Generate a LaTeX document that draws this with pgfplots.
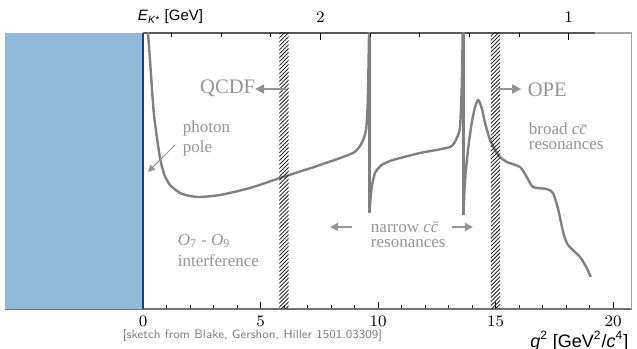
\documentclass[border=0pt]{standalone}
\usepackage{fontspec}
\usepackage{pgfplots}
\pgfplotsset{compat=1.18}
\usetikzlibrary{arrows.meta,patterns.meta}
\newfontfamily\helv{Liberation Sans}
\newfontfamily\tnr{Liberation Serif}
\definecolor{curvegray}{RGB}{128,128,128}
\definecolor{anngray}{RGB}{148,148,148}
\definecolor{kblue}{RGB}{143,186,218}
\definecolor{kdark}{RGB}{25,70,115}

\begin{document}
\begin{tikzpicture}
\begin{axis}[
 scale only axis, width=313.4pt, height=138pt,
 xmin=-5.87, xmax=20.8, ymin=0, ymax=276,
 axis x line*=bottom, axis y line=none,
 x axis line style={-, draw=black!55, line width=0.6pt},
 xtick={0,5,10,15,20},
 minor xtick={1,2,3,4,6,7,8,9,11,12,13,14,16,17,18,19},
 xtick align=inside, major tick length=3.5pt, minor tick length=2pt,
 tick style={black, line width=0.4pt},
 ticklabel style={font=\fontsize{8}{9}\selectfont},
 clip mode=individual,
]
% blue region
\addplot[fill=kblue, draw=none] coordinates {(-5.87,0) (0,0) (0,276) (-5.87,276)} -- cycle;
\addplot[kdark, line width=1pt] coordinates {(0,0) (0,276)};
% frame
\draw[black!65, line width=0.6pt] (axis cs:0,276) -- (axis cs:19.25,276);
\draw[black!35, line width=0.6pt] (axis cs:19.25,276) -- (axis cs:20.8,276) -- (axis cs:20.8,0);
% curve
\addplot[curvegray, line width=1.2pt, line join=round, smooth, tension=0.4] coordinates {
(0.17,289) (0.213,276) (0.298,249) (0.383,219) (0.468,194) (0.596,171)
(0.723,151) (0.894,135) (1.149,124) (1.574,116) (2.0,113) (2.426,112)
(3.277,114) (4.553,121) (5.957,132) (7.532,144) (8.936,156) (9.306,166)
(9.489,179) (9.562,206) (9.604,256) (9.625,289)
};
\addplot[curvegray, line width=1.3pt] coordinates {(9.63,289) (9.63,96)};
\addplot[curvegray, line width=1.2pt, line join=round, smooth, tension=0.4] coordinates {
(9.63,96) (9.66,104) (9.732,122) (9.872,136) (10.157,144) (10.638,149) (11.787,156)
(13.064,162) (13.349,171) (13.489,182) (13.562,222) (13.604,276) (13.617,289)
};
\addplot[curvegray, line width=1.3pt] coordinates {(13.63,289) (13.63,94)};
\addplot[curvegray, line width=1.2pt, line join=round, smooth, tension=0.4] coordinates {
(13.63,94) (13.651,104) (13.702,129) (13.843,162) (13.987,186)
(14.128,202) (14.268,209) (14.413,201) (14.553,186) (14.766,169) (14.979,159)
(15.191,152) (15.477,147) (16.043,142) (16.328,132) (16.596,122) (17.179,120)
(17.447,116) (17.672,99) (17.885,76) (18.085,64) (18.596,52) (18.881,41)
(19.051,32)
};
% hatched bands
\addplot[draw=none, pattern={Lines[angle=45,distance=1.4pt,line width=0.45pt]}, pattern color=black!85]
 coordinates {(5.8,0) (6.2,0) (6.2,276) (5.8,276)} -- cycle;
\addplot[draw=none, pattern={Lines[angle=45,distance=1.4pt,line width=0.45pt]}, pattern color=black!85]
 coordinates {(14.8,0) (15.2,0) (15.2,276) (14.8,276)} -- cycle;
% annotations
\node[font=\tnr\fontsize{10.3}{12}\selectfont, text=anngray] at (axis cs:3.6,221) {QCDF};
\draw[anngray, line width=1pt, -{Triangle[length=4.5pt,width=4.5pt]}] (axis cs:6.1,220) -- (axis cs:4.77,220);
\node[font=\tnr\fontsize{10.3}{12}\selectfont, text=anngray] at (axis cs:17.2,219) {OPE};
\draw[anngray, line width=1pt, -{Triangle[length=4.5pt,width=4.5pt]}] (axis cs:15.0,220) -- (axis cs:16.09,220);
\node[anchor=west, align=left, font=\tnr\fontsize{8.5}{10}\selectfont, text=anngray] at (axis cs:1.40,171) {photon\\pole};
\draw[anngray, line width=0.5pt, -{Triangle[length=3.5pt,width=3.5pt]}] (axis cs:1.36,164) -- (axis cs:0.21,137);
\node[anchor=west, align=left, font=\tnr\fontsize{8.5}{10.5}\selectfont, text=anngray] at (axis cs:1.18,59) {{\itshape O}\textsubscript{7} - {\itshape O}\textsubscript{9}\\interference};
\node[anchor=west, align=left, font=\tnr\fontsize{8.5}{7.5}\selectfont, text=anngray] at (axis cs:9.40,74) {narrow {\itshape c\={c}}\\resonances};
\draw[anngray, line width=0.8pt, -{Triangle[length=4pt,width=4pt]}] (axis cs:8.89,82) -- (axis cs:7.96,82);
\draw[anngray, line width=0.8pt, -{Triangle[length=4pt,width=4pt]}] (axis cs:13.15,82) -- (axis cs:14.04,82);
\node[anchor=west, align=left, font=\tnr\fontsize{8.5}{7.5}\selectfont, text=anngray] at (axis cs:16.12,172.5) {broad {\itshape c\={c}}\\resonances};
% axis labels
\node[font=\helv\fontsize{7.5}{9}\selectfont] at (axis cs:1.17,292) {\textit{E}\textsubscript{\textit{K}*} [GeV]};
\node[anchor=east, font=\helv\fontsize{9}{11}\selectfont] at (axis cs:20.95,-32) {\textit{q}\textsuperscript{2} [GeV\textsuperscript{2}/\textit{c}\textsuperscript{4}]};
\node[font=\sffamily\fontsize{6.1}{7}\selectfont, text=black!50] at (axis cs:4.66,-26) {[sketch from Blake, Gershon, Hiller 1501.03309]};
\coordinate (bbsw) at (axis cs:-6.085,-40);
\coordinate (bbne) at (axis cs:21.02,309);
\end{axis}
\begin{axis}[
 scale only axis, width=313.4pt, height=138pt,
 x dir=reverse, xmin=0.7453, xmax=3.2712, ymin=0, ymax=1,
 axis x line*=top, axis y line=none,
 x axis line style={draw=none},
 xtick={1,2}, minor xtick={1.2,1.4,1.6,1.8,2.2,2.4,2.6},
 xtick align=inside, major tick length=3.5pt, minor tick length=2pt,
 tick style={black, line width=0.4pt},
 ticklabel style={font=\fontsize{8}{9}\selectfont},
 xticklabel shift=1.5pt,
]
\addplot[draw=none] coordinates {(1,0.5)};
\end{axis}
\pgfresetboundingbox
\path[use as bounding box] (bbsw) rectangle (bbne);
\end{tikzpicture}
\end{document}
